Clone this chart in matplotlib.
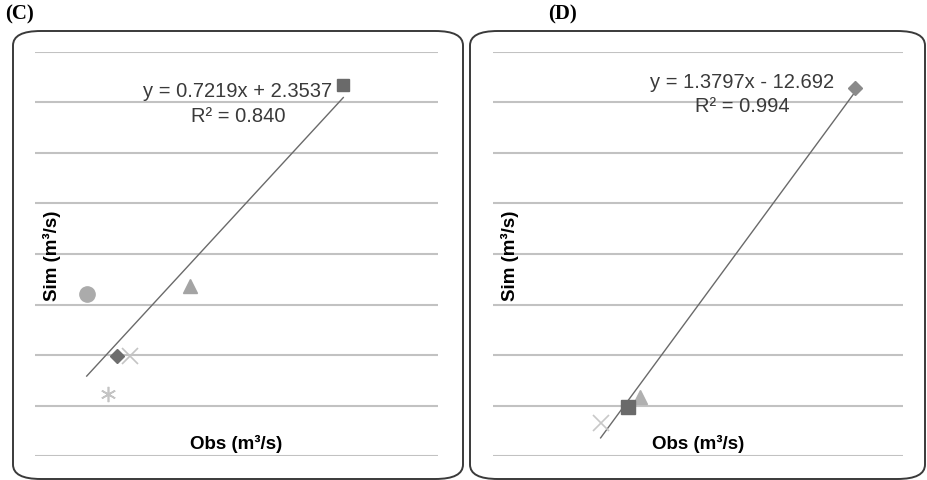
import numpy as np
import matplotlib.pyplot as plt
from matplotlib.patches import FancyBboxPatch

# panel C observed / simulated flows (m3/s)
c_names = ['square', 'triangle', 'circle', 'diamond', 'x', 'star']
c_obs = [45.9, 23.1, 7.7, 12.2, 14.1, 10.9]
c_sim = [36.7, 16.8, 16.0, 9.9, 9.9, 6.15]
c_fit = (0.7219, 2.3537)
c_eq = ['y = 0.7219x + 2.3537', 'R² = 0.840']

# panel D
d_names = ['diamond', 'triangle', 'square', 'x']
d_obs = [35.3, 14.3, 13.2, 10.5]
d_sim = [36.4, 5.85, 4.86, 3.27]
d_fit = (1.3797, -12.692)
d_eq = ['y = 1.3797x - 12.692', 'R² = 0.994']

plt.rcParams['font.family'] = ['Liberation Sans', 'DejaVu Sans']

W, H = 927, 481
fig = plt.figure(figsize=(W / 100, H / 100), dpi=100)

styles_c = {
    'square': dict(marker='s', ms=9, color='#6a6a6a', mec='#6a6a6a'),
    'triangle': dict(marker='^', ms=10, color='#a4a4a4', mec='#a4a4a4'),
    'circle': dict(marker='o', ms=11, color='#ababab', mec='#ababab'),
    'diamond': dict(marker='D', ms=7, color='#6e6e6e', mec='#6e6e6e'),
    'x': dict(marker='x', ms=11, color='#c4c4c4', mew=1.2),
    'star': dict(marker=(6, 2, 0), ms=11, color='#c4c4c4', mew=1.2),
}
styles_d = {
    'diamond': dict(marker='D', ms=7, color='#8a8a8a', mec='#8a8a8a'),
    'triangle': dict(marker='^', ms=10, color='#b0b0b0', mec='#b0b0b0'),
    'square': dict(marker='s', ms=10, color='#6a6a6a', mec='#6a6a6a'),
    'x': dict(marker='x', ms=12, color='#c8c8c8', mew=1.2),
}


def px_box(x0, y0, x1, y1):
    # pixel box (top-left origin) -> figure fraction
    return [x0 / W, 1 - y1 / H, (x1 - x0) / W, (y1 - y0) / H]


def panel(box, area, xmax, names, obs, sim, styles, fit, eq, eq_pos, tag, tag_x):
    bx = px_box(*box)
    fig.patches.append(FancyBboxPatch((bx[0], bx[1]), bx[2], bx[3],
                                      boxstyle='round,pad=0,rounding_size=0.03',
                                      transform=fig.transFigure, fc='none',
                                      ec='#3a3a3a', lw=1.4, zorder=-1))
    fig.text(tag_x / W, 1 - 14 / H, tag, family='Liberation Serif',
             weight='bold', fontsize=15, ha='left', va='center')
    ax = fig.add_axes(px_box(*area))
    ax.set_xlim(0, xmax)
    ax.set_ylim(0, 40)
    ax.set_yticks(np.arange(0, 41, 5))
    ax.set_xticks([])
    ax.tick_params(left=False, labelleft=False)
    ax.grid(axis='y', color='#c2c2c2', lw=1.5)
    for s in ax.spines.values():
        s.set_visible(False)
    ax.patch.set_alpha(0)

    m, b = fit
    xs = np.array([min(obs), max(obs)])
    ax.plot(xs, m * xs + b, color='#6a6a6a', lw=1.0, zorder=3)
    for n, x, y in zip(names, obs, sim):
        ax.plot([x], [y], ls='none', zorder=4, clip_on=False, **styles[n])

    ex, ey1, ey2 = eq_pos
    ax.text(ex, ey1, eq[0], ha='center', va='center', fontsize=14.5, color='#3a3a3a', zorder=5)
    ax.text(ex, ey2, eq[1], ha='center', va='center', fontsize=14.5, color='#3a3a3a', zorder=5)

    ax.text(0.042, 0.4975, 'Sim (m³/s)', transform=ax.transAxes, rotation=90,
            ha='center', va='center', fontsize=13.5, weight='bold')
    ax.text(0.50, 0.032, 'Obs (m³/s)', transform=ax.transAxes,
            ha='center', va='center', fontsize=13.5, weight='bold')
    return ax


panel((13, 32, 463, 480), (35, 53, 438, 457), 60, c_names, c_obs, c_sim, styles_c,
      c_fit, c_eq, (30.2, 36.2, 33.7), '(C)', 5)
panel((470, 32, 925, 480), (493, 53, 903, 457), 40, d_names, d_obs, d_sim, styles_d,
      d_fit, d_eq, (24.3, 37.1, 34.7), '(D)', 548)

fig.savefig('out.png', dpi=100)
